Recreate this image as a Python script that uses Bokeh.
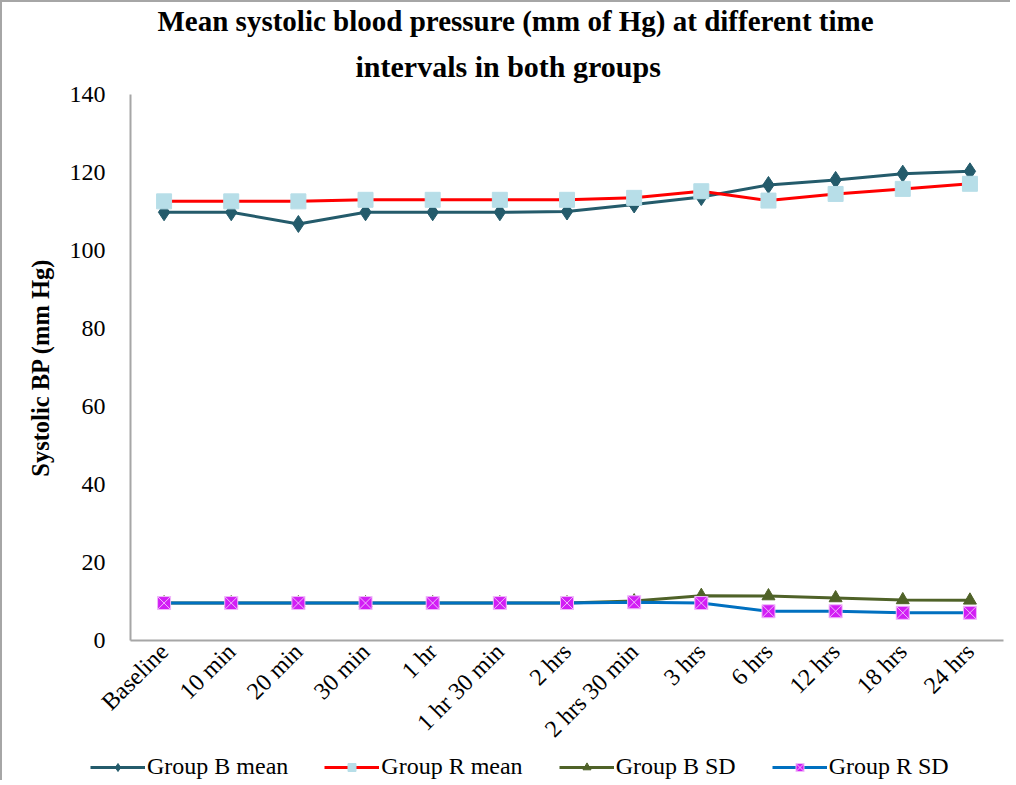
from bokeh.plotting import figure
from bokeh.layouts import column
from bokeh.models import Range1d, FixedTicker, Legend, LegendItem, Title
from bokeh.embed import file_html
from bokeh.resources import INLINE
import math

categories = ["Baseline", "10 min", "20 min", "30 min", "1 hr", "1 hr 30 min", "2 hrs",
              "2 hrs 30 min", "3 hrs", "6 hrs", "12 hrs", "18 hrs", "24 hrs"]
group_b_mean = [109.8, 109.8, 106.8, 109.8, 109.8, 109.8, 110.0, 111.8, 113.7, 116.8, 118.1, 119.7, 120.3]
group_r_mean = [112.6, 112.6, 112.6, 113.0, 113.0, 113.0, 113.0, 113.5, 115.2, 112.8, 114.5, 115.8, 117.1]
group_b_sd = [9.6, 9.6, 9.6, 9.6, 9.6, 9.6, 9.6, 10.1, 11.5, 11.4, 10.9, 10.4, 10.3]
group_r_sd = [9.6, 9.6, 9.6, 9.6, 9.6, 9.6, 9.6, 9.8, 9.6, 7.5, 7.5, 7.1, 7.1]
y_ticks = [0, 20, 40, 60, 80, 100, 120, 140]
series_names = ["Group B mean", "Group R mean", "Group B SD", "Group R SD"]

SERIF = "Liberation Serif"
STYLES = [
    dict(color="#245B6B", marker="diamond", size=17, fill="#245B6B", mline="#245B6B"),
    dict(color="#FF0000", marker="square", size=15, fill="#B7DEE8", mline="#B7DEE8"),
    dict(color="#4F6228", marker="triangle", size=13, fill="#4F6228", mline="#4F6228"),
    dict(color="#0070C0", marker="square_x", size=13, fill="#D21EF5", mline="#F0B8FA"),
]
all_series = [group_b_mean, group_r_mean, group_b_sd, group_r_sd]

p = figure(width=1010, height=752, x_range=categories, y_range=Range1d(0, 140),
           output_backend="svg", toolbar_location=None,
           min_border_left=128, min_border_right=9, min_border_top=92, min_border_bottom=114)
p.outline_line_color = None
p.xgrid.grid_line_color = None
p.ygrid.grid_line_color = None
p.background_fill_color = "white"
p.border_fill_color = "white"
p.styles = {"border-top": "2px solid #A6A6A6", "border-left": "2px solid #A6A6A6"}

# titles (line 2 added first: nearest to frame); left-aligned with offsets to centre on the chart
t2 = Title(text="intervals in both groups", align="left", text_font=SERIF, offset=225,
           text_font_size="30px", text_font_style="bold", text_color="black", standoff=23)
t1 = Title(text="Mean systolic blood pressure  (mm of Hg) at different time", align="left", offset=27,
           text_font=SERIF, text_font_size="29px", text_font_style="bold", text_color="black", standoff=0)
try:
    t1.text_line_height = 1.45
except Exception:
    pass
p.add_layout(t2, "above")
p.add_layout(t1, "above")

for ax in (p.xaxis[0], p.yaxis[0]):
    ax.axis_line_color = "#A6A6A6"
    ax.axis_line_width = 2
    ax.major_tick_line_color = None
    ax.minor_tick_line_color = None
    ax.major_tick_in = 0
    ax.major_tick_out = 0
    ax.major_label_text_font = SERIF
    ax.major_label_text_font_size = "24px"
    ax.major_label_text_color = "black"

p.yaxis.ticker = FixedTicker(ticks=y_ticks)
p.yaxis.major_label_standoff = 25
p.yaxis.axis_label = "Systolic BP (mm Hg)"
p.yaxis.axis_label_text_font = SERIF
p.yaxis.axis_label_text_font_style = "bold"
p.yaxis.axis_label_text_font_size = "24.5px"
p.yaxis.axis_label_standoff = 13
p.yaxis.axis_label_text_color = "black"

p.xaxis.major_label_orientation = math.pi / 4
p.xaxis.major_label_standoff = 7

x = categories
for vals, st in zip(all_series, STYLES):
    p.line(x, vals, line_color=st["color"], line_width=3)
    p.scatter(x, vals, marker=st["marker"], size=st["size"], fill_color=st["fill"], line_color=st["mline"])

# legend strip below the chart: own small figure whose data lie outside its y range
pl = figure(width=1010, height=28, x_range=categories, y_range=Range1d(1000, 1001),
            output_backend="svg", toolbar_location=None,
            x_axis_location=None, y_axis_location=None,
            min_border_left=0, min_border_right=0, min_border_top=0, min_border_bottom=0)
pl.outline_line_color = None
pl.xgrid.grid_line_color = None
pl.ygrid.grid_line_color = None
pl.border_fill_color = "white"
pl.background_fill_color = "white"
pl.styles = {"border-left": "2px solid #A6A6A6"}
aligned_off = False
if "frame_align" in pl.properties():
    pl.frame_align = False
    aligned_off = True
items = []
for name, vals, st in zip(series_names, all_series, STYLES):
    lr = pl.line(x, vals, line_color=st["color"], line_width=3)
    mr = pl.scatter(x, vals, marker=st["marker"], size=st["size"], fill_color=st["fill"],
                    line_color=st["mline"])
    items.append(LegendItem(label=name, renderers=[lr, mr]))
legend = Legend(items=items, orientation="horizontal",
                location=(88, 0) if aligned_off else (0, 0))
legend.border_line_color = None
legend.background_fill_alpha = 0
legend.label_text_font = SERIF
legend.label_text_font_size = "24px"
legend.label_text_color = "black"
legend.glyph_width = 55
legend.glyph_height = 20
legend.label_height = 20
legend.label_standoff = 2
legend.spacing = 36 if aligned_off else 34
legend.padding = 0
legend.margin = 0
pl.add_layout(legend, "center")

open("out.html", "w").write(file_html(column(p, pl, spacing=0), INLINE))
